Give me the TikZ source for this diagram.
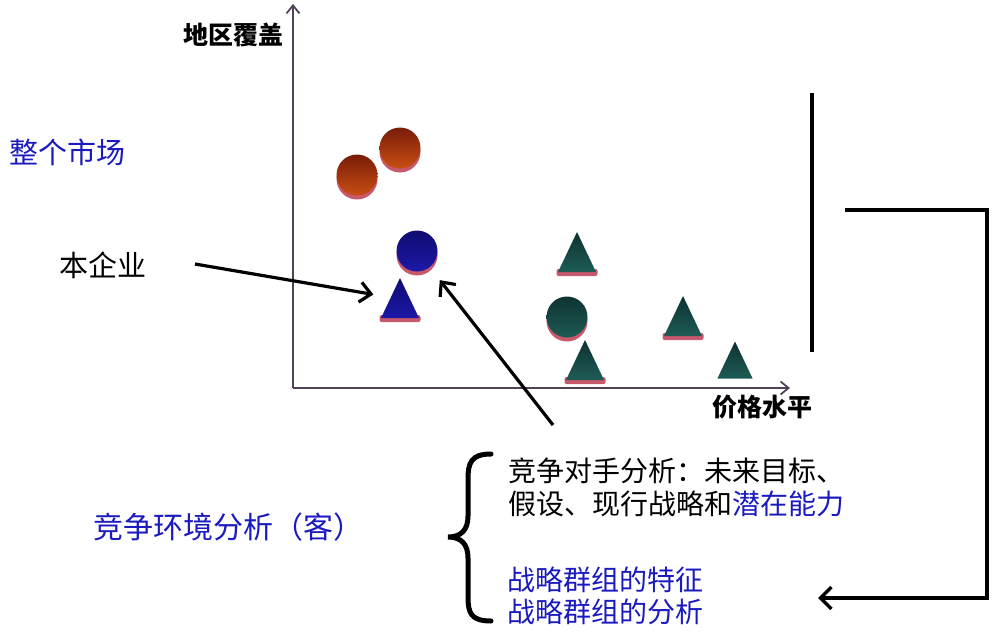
\documentclass[tikz,border=0pt]{standalone}
\usepackage{fontspec}
\setmainfont{Noto Sans CJK SC}
\usetikzlibrary{arrows.meta,positioning}

\definecolor{rimpink}{RGB}{200,88,108}
\definecolor{brick}{RGB}{200,78,18}
\definecolor{brickdark}{RGB}{120,28,8}
\definecolor{royal}{RGB}{28,24,168}
\definecolor{royaldark}{RGB}{16,12,112}
\definecolor{tealg}{RGB}{30,92,86}
\definecolor{tealdark}{RGB}{14,50,48}
\definecolor{axisc}{RGB}{82,66,88}
\definecolor{txtblue}{RGB}{26,26,190}

\tikzset{
  txt/.style={inner sep=0pt, anchor=west, font=\fontsize{28}{32}\selectfont},
  blue txt/.style={txt, text=txtblue},
  big txt/.style={inner sep=0pt, anchor=west, font=\fontsize{29}{34}\selectfont},
  axis lab/.style={inner sep=0pt, font=\fontsize{25}{30}\selectfont\bfseries},
  axis/.style={draw=axisc, line width=1.8pt, -{Straight Barb[length=8pt,width=13pt]}},
  arr/.style={draw, line width=3.2pt, -{Straight Barb[length=11pt,width=20pt]}},
  red fill/.style={top color=brickdark, middle color=brick, bottom color=brick},
  blue fill/.style={top color=royaldark, middle color=royal, bottom color=royal},
  teal fill/.style={top color=tealdark, middle color=tealg, bottom color=tealg},
  rim/.style={fill=rimpink},
  pics/mcirc/.style={code={
      \path[rim] (0,4) circle (20.5pt);
      \shade[#1] (0,0) circle (20.5pt);
      \coordinate (-c) at (0,0);
  }},
  pics/mtri/.style={code={
      \path[rim, rounded corners=2pt] (-20.5,16) rectangle (20.5,23);
      \shade[#1] (0,-21) -- (19,19) -- (-19,19) -- cycle;
      \coordinate (-c) at (0,0);
  }},
}

\begin{document}
\begin{tikzpicture}[x=1pt, y=-1pt]
    \useasboundingbox (0,0) rectangle (996,632);

    % axes
    \coordinate (o) at (293,388);
    \coordinate (ytip) at (293,4);
    \coordinate (xtip) at (790,388);
    \draw[axis] (o) -- (ytip);
    \draw[axis] (o) -- (xtip);
    \node[axis lab] (ylab) at (233,35) {地区覆盖};
    \node[axis lab] (xlab) at (762,407) {价格水平};

    % groups
    \pic (r1) at (357,175) {mcirc=red fill};
    \pic (r2) at (400,148) {mcirc=red fill};
    \pic (bc) at (417,251) {mcirc=blue fill};
    \pic (bt) at (400,299) {mtri=blue fill};
    \pic (t1) at (577,253) {mtri=teal fill};
    \pic (tc) at (567,317) {mcirc=teal fill};
    \pic (t2) at (585,361) {mtri=teal fill};
    \pic (t3) at (683,317) {mtri=teal fill};
    \pic[rim/.style={fill=none}, scale=0.93] (t4) at (735,361) {mtri=teal fill};

    % labels
    \node[big txt, text=txtblue] (whole) at (9,152) {整个市场};
    \node[big txt] (ben) at (59,265) {本企业};
    \node[txt, font=\fontsize{30}{34}\selectfont, text=txtblue] (env) at (93,527) {竞争环境分析（客）};

    \node[txt] (c1) at (508,471) {竞争对手分析：未来目标、};
    \node[txt, below=33pt of c1.west, anchor=west] (c2) {假设、现行战略和\textcolor{txtblue}{潜在能力}};
    \node[blue txt] (g1) at (507,580) {战略群组的特征};
    \node[blue txt, below=32pt of g1.west, anchor=west] (g2) {战略群组的分析};

    % arrows
    \coordinate (a1) at (195,264);
    \coordinate (a2) at (553,425);
    \draw[arr, shorten >=27pt] (a1) -- (bt-c);
    \draw[arr, shorten >=37pt] (a2) -- (bc-c);

    % brace
    \draw[line width=5pt, line cap=round] (491,454) .. controls (471,454) and (468,463) .. (468,479)
      -- (468,516) .. controls (468,530) and (461,537) .. (448,537)
      .. controls (461,537) and (468,544) .. (468,558)
      -- (468,597) .. controls (468,613) and (471,621) .. (491,621);

    % right side
    \coordinate (s1) at (812,93);
    \coordinate (s2) at (812,352);
    \draw[line width=3.5pt] (s1) -- (s2);
    \coordinate (k1) at (845,210);
    \coordinate (k2) at (818,598);
    \draw[arr, line width=3.5pt, -{Straight Barb[length=11pt,width=22pt]}] (k1) -- ++(142,0) |- (k2);
\end{tikzpicture}
\end{document}
